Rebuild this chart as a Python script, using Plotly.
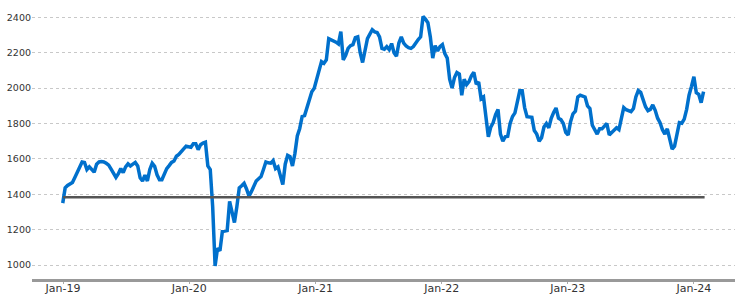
import pandas as pd
import plotly.graph_objects as go

start_date = "2018-12-31"
values = [
    1350, 1436, 1450, 1460, 1467, 1495, 1521, 1550, 1583, 1580,
    1540, 1555, 1540, 1525, 1570, 1583, 1585, 1583, 1575, 1565,
    1542, 1520, 1495, 1516, 1545, 1522, 1555, 1572, 1560, 1570,
    1580, 1560, 1493, 1475, 1508, 1475, 1540, 1575, 1558, 1510,
    1482, 1482, 1515, 1545, 1562, 1580, 1588, 1615, 1625, 1640,
    1660, 1672, 1669, 1666, 1686, 1686, 1652, 1680, 1690, 1695,
    1560, 1540, 1330, 995, 1095, 1080, 1190, 1195, 1195, 1360,
    1300, 1240, 1330, 1436, 1448, 1462, 1430, 1390, 1415, 1440,
    1475, 1488, 1500, 1540, 1583, 1578, 1576, 1590, 1545, 1555,
    1500, 1455, 1570, 1620, 1612, 1560, 1630, 1730, 1772, 1840,
    1845, 1890, 1925, 1980, 2000, 2050, 2105, 2150, 2140, 2160,
    2280, 2275, 2270, 2260, 2250, 2320, 2160, 2185, 2225, 2240,
    2246, 2285, 2290, 2200, 2145, 2225, 2280, 2305, 2330, 2318,
    2315, 2290, 2225, 2220, 2235, 2218, 2252, 2200, 2180, 2255,
    2290, 2255, 2238, 2229, 2225, 2235, 2260, 2275, 2290, 2405,
    2390, 2370, 2290, 2170, 2240, 2210, 2235, 2246, 2195, 2170,
    2050, 2000, 2060, 2088, 2080, 1960, 2050, 2020, 2037, 2070,
    2090, 2022, 2035, 1940, 1950, 1820, 1725, 1780, 1805, 1850,
    1880, 1740, 1700, 1725, 1728, 1800, 1840, 1860, 1935, 1985,
    1985, 1890, 1839, 1838, 1835, 1760, 1740, 1700, 1720, 1780,
    1800, 1775, 1830, 1862, 1888, 1830, 1822, 1800, 1750, 1735,
    1810, 1855, 1870, 1950, 1960, 1955, 1950, 1900, 1885, 1790,
    1760, 1740, 1770, 1770, 1785, 1800, 1735, 1750, 1765, 1776,
    1765, 1830, 1890, 1878, 1870, 1867, 1885, 1950, 1986, 1976,
    1935, 1895, 1873, 1880, 1905, 1875, 1830, 1805, 1765, 1740,
    1770, 1715, 1655, 1672, 1740, 1805, 1802, 1825, 1880, 1960,
    2010, 2065, 1974, 1965, 1918, 1980,
]
dates = pd.date_range(start_date, periods=len(values), freq="7D")

ref_dates = ["2019-01-01", "2024-02-01"]
ref_values = [1383, 1383]

tick_dates = ["2019-01-01", "2020-01-01", "2021-01-01", "2022-01-01", "2023-01-01", "2024-01-01"]
y_ticks = [1000, 1200, 1400, 1600, 1800, 2000, 2200, 2400]

fig = go.Figure()
fig.add_trace(go.Scatter(x=dates, y=values, mode="lines",
                         line=dict(color="#0070cc", width=3.5), showlegend=False))
fig.add_trace(go.Scatter(x=ref_dates, y=ref_values, mode="lines",
                         line=dict(color="#555555", width=2.5), showlegend=False))

fig.update_layout(
    width=741, height=297,
    margin=dict(l=32, r=6, t=5, b=18),
    paper_bgcolor="white", plot_bgcolor="white",
    font=dict(family="DejaVu Sans", color="#333333"),
    xaxis=dict(
        range=["2018-10-03", "2024-04-29"],
        tickvals=tick_dates, tickformat="%b-%y",
        showgrid=False, showline=True, linecolor="#999999", linewidth=2.5,
        ticks="outside", ticklen=2, tickcolor="#aaaaaa",
        tickfont=dict(size=11, color="#333333"),
        ticklabelstandoff=-5,
        zeroline=False, automargin=False,
    ),
    yaxis=dict(
        range=[921, 2470],
        tickvals=y_ticks,
        showgrid=True, gridcolor="#c8c8c8", griddash="dot", gridwidth=1,
        showline=False, zeroline=False, ticks="",
        tickfont=dict(size=9.5, color="#333333"),
        automargin=False,
    ),
)

fig.write_html("out.html")
